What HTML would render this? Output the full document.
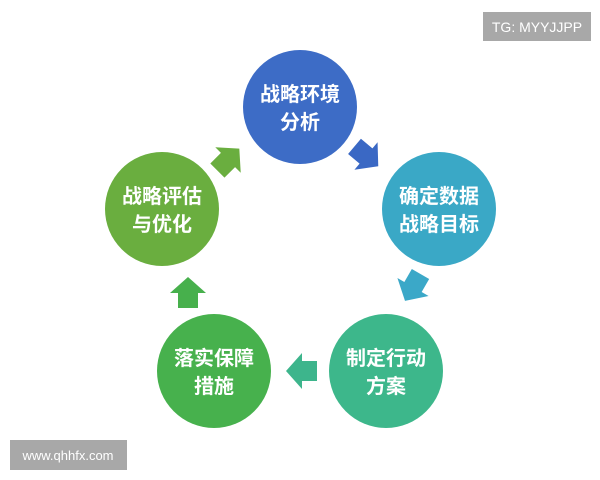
<!DOCTYPE html>
<html><head><meta charset="utf-8"><style>
html,body{margin:0;padding:0;background:#fff;width:600px;height:480px;overflow:hidden}
svg{display:block}
text{font-family:"Liberation Sans","Noto Sans CJK SC",sans-serif;font-weight:bold;fill:#fff}
</style></head><body>
<svg width="600" height="480" viewBox="0 0 600 480" xmlns="http://www.w3.org/2000/svg">
<defs>
<path id="ar" d="M-15,-10 L0,-10 L0,-18 L16,0 L0,18 L0,10 L-15,10 Z"/>
</defs>
<circle cx="300" cy="107" r="57" fill="#3d6cc6"/>
<circle cx="439" cy="209" r="57" fill="#3aa8c6"/>
<circle cx="386" cy="371" r="57" fill="#3db78b"/>
<circle cx="214" cy="371" r="57" fill="#47b14d"/>
<circle cx="162" cy="209" r="57" fill="#6aae3f"/>
<use href="#ar" transform="translate(366,156) rotate(40)" fill="#3a68c4"/>
<use href="#ar" transform="translate(413,287) rotate(120)" fill="#3ba8c8"/>
<use href="#ar" transform="translate(302,371) rotate(180)" fill="#3db58c"/>
<use href="#ar" transform="translate(188,293) rotate(-90)" fill="#47b04c"/>
<use href="#ar" transform="translate(228,160) rotate(-45)" fill="#6aae3f"/>
<text x="300" y="101" font-size="20" text-anchor="middle">战略环境</text>
<text x="300" y="129" font-size="20" text-anchor="middle">分析</text>
<text x="439" y="203" font-size="20" text-anchor="middle">确定数据</text>
<text x="439" y="231" font-size="20" text-anchor="middle">战略目标</text>
<text x="386" y="365" font-size="20" text-anchor="middle">制定行动</text>
<text x="386" y="393" font-size="20" text-anchor="middle">方案</text>
<text x="214" y="365" font-size="20" text-anchor="middle">落实保障</text>
<text x="214" y="393" font-size="20" text-anchor="middle">措施</text>
<text x="162" y="203" font-size="20" text-anchor="middle">战略评估</text>
<text x="162" y="231" font-size="20" text-anchor="middle">与优化</text>
<rect x="483" y="12" width="108" height="29" fill="#a8a8a8"/>
<text x="537" y="32" font-size="14" text-anchor="middle" style="font-weight:normal">TG: MYYJJPP</text>
<rect x="10" y="440" width="117" height="30" fill="#a8a8a8"/>
<text x="68" y="460" font-size="13" text-anchor="middle" style="font-weight:normal">www.qhhfx.com</text>
</svg>
</body></html>
